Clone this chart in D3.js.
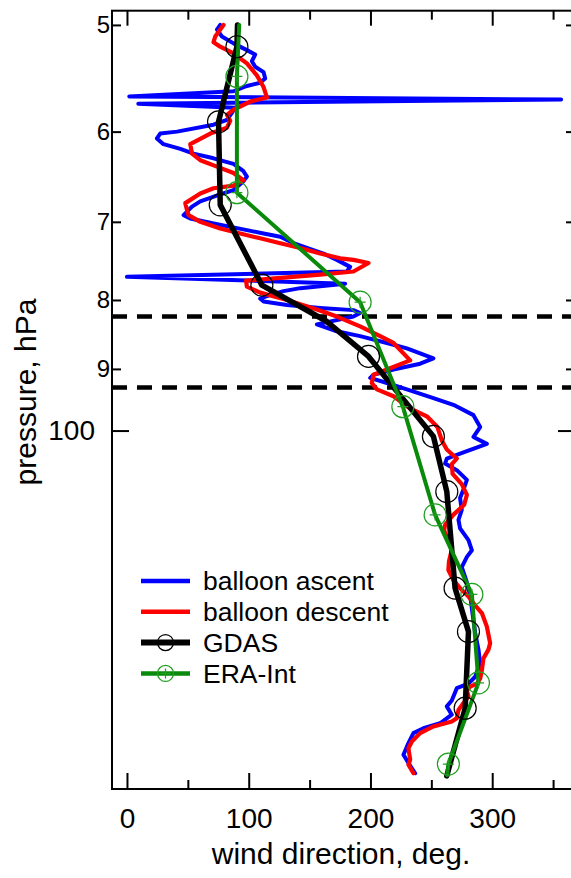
<!DOCTYPE html>
<html lang="en">
<head>
<meta charset="UTF-8">
<title>Wind direction profile</title>
<script src="https://cdn.jsdelivr.net/npm/d3@7.8.5/dist/d3.min.js"></script>
<style>
  body { margin: 0; background: #fff; }
  svg { display: block; font-family: "Liberation Sans", Arial, sans-serif; }
  .axis line { stroke: #000; stroke-width: 2px; }
  .axis path { display: none; }
  .axis text { fill: #000; }
</style>
</head>
<body>
<svg id="chart" width="571" height="878"></svg>
<script>
// [wind direction (deg), pressure (hPa)]
const ascent = [
  [76.6,50.0],[73.9,50.4],[78.0,51.0],[87.5,51.6],[98.5,52.2],[105.3,52.6],[102.6,53.2],[105.3,53.7],
  [112.2,54.2],[113.5,54.8],[109.4,55.2],[98.5,55.5],[87.5,56.0],[1.9,56.5],[356.6,56.8],[9.3,57.2],
  [88.9,57.6],[85.6,58.2],[82.1,58.8],[71.1,59.3],[41.1,60.0],[27.3,60.2],[24.6,60.7],[30.0,61.3],
  [43.8,61.8],[54.7,62.3],[71.1,62.8],[87.5,63.4],[95.7,64.2],[98.5,64.8],[95.7,65.3],[87.5,66.3],
  [76.6,66.8],[60.2,67.6],[53.4,68.2],[46.5,69.2],[52.0,69.6],[71.1,70.2],[98.5,71.0],[112.2,71.4],
  [125.9,71.8],[136.8,72.6],[147.8,73.2],[161.4,73.9],[172.4,74.7],[183.3,75.6],[180.6,76.2],[0.0,76.9],
  [179.2,77.8],[142.3,78.4],[128.6,78.8],[117.7,79.3],[109.4,79.8],[112.2,80.2],[131.4,80.7],[158.7,81.1],
  [186.0,81.4],[191.5,81.8],[186.0,82.3],[156.0,83.4],[172.4,84.4],[191.5,85.1],[213.5,86.1],[229.9,86.9],
  [251.7,88.4],[240.8,89.2],[218.9,90.1],[202.5,90.9],[199.8,91.4],[213.5,92.2],[229.9,93.2],[251.7,94.6],
  [268.1,95.7],[284.6,97.4],[290.1,99.4],[284.6,101.1],[295.6,102.3],[276.4,103.8],[262.7,104.9],[261.3,105.8],
  [270.9,107.0],[279.2,108.8],[276.4,110.6],[273.6,112.2],[275.0,114.5],[272.3,116.5],[273.6,118.2],[280.5,120.6],
  [283.3,122.7],[279.2,124.1],[275.0,126.3],[278.6,129.1],[281.9,132.5],[283.3,135.6],[286.0,141.3],[288.7,145.4],
  [290.1,148.8],[286.0,152.3],[280.5,154.1],[270.9,155.3],[266.8,158.6],[262.7,160.2],[266.8,162.5],[257.2,164.9],
  [243.5,166.3],[235.3,167.7],[231.2,170.6],[227.1,174.0],[231.2,176.5],[236.7,179.6]
];

const descent = [
  [79.3,50.0],[76.6,50.4],[72.5,51.0],[71.1,51.5],[76.6,51.9],[87.5,52.5],[98.5,53.4],[106.7,54.5],
  [112.2,55.6],[114.9,56.6],[101.2,57.0],[87.5,57.8],[82.1,58.3],[84.8,58.9],[82.1,59.6],[68.4,60.2],
  [52.0,61.3],[53.4,62.3],[60.2,63.0],[73.9,63.7],[87.5,64.4],[95.7,65.2],[87.5,65.8],[71.1,66.1],
  [60.2,66.7],[47.9,67.8],[49.3,68.6],[50.6,69.2],[60.2,70.0],[76.6,70.8],[93.0,71.4],[109.4,72.0],
  [125.9,72.6],[142.3,73.2],[158.7,73.9],[175.1,74.5],[186.0,74.7],[198.4,75.1],[186.0,76.2],[158.7,76.6],
  [128.6,77.0],[97.8,77.4],[98.5,78.2],[109.4,79.0],[131.4,80.0],[156.0,81.3],[172.4,82.3],[191.5,83.7],
  [208.0,85.1],[218.9,86.1],[232.6,88.7],[213.5,90.1],[202.5,90.9],[201.1,92.2],[205.3,93.2],[218.9,94.3],
  [232.6,96.3],[246.3,97.6],[255.0,99.4],[258.6,101.7],[262.7,103.3],[270.9,104.9],[266.8,105.9],[267.5,107.7],
  [275.0,109.6],[279.2,111.6],[277.0,113.5],[268.0,115.5],[261.3,117.5],[260.5,118.6],[264.0,120.8],[266.8,122.6],
  [264.5,125.0],[264.0,126.9],[268.1,129.1],[273.6,130.9],[280.5,132.8],[286.5,135.0],[291.5,136.6],[295.6,139.8],
  [298.3,143.8],[296.9,145.4],[292.8,147.6],[291.5,150.6],[290.1,152.8],[287.4,154.1],[281.9,154.9],[279.2,155.9],
  [280.5,157.5],[276.4,159.3],[272.3,161.2],[270.9,163.5],[266.8,164.4],[251.7,165.8],[240.8,167.7],[234.0,170.1],
  [231.2,172.1],[232.6,175.5],[231.2,177.0],[235.3,179.6]
];

// third value: 1 = level drawn with a marker
const gdas = [
  [90.8,50.0,0],[90.3,51.9,1],[75.2,59.0,1],[76.6,68.0,1],[110.8,78.0,1],[164.2,83.0,0],[198.4,88.1,1],
  [251.7,101.0,1],[262.7,111.0,1],[269.5,130.9,1],[280.5,141.0,1],[277.8,160.7,1],[262.7,180.4,0]
];

const eraInt = [
  [92.2,50.0,0],[90.3,54.6,1],[90.3,66.6,1],[191.5,80.3,1],[226.6,96.0,1],[253.1,115.5,1],
  [283.3,132.3,1],[288.7,153.9,1],[264.0,176.8,1],[263.0,180.2,0]
];

const dashedLevels = [82.3, 92.9];

const xMajorTicks = [0, 100, 200, 300];
const xMinorTicks = [50, 150, 250, 350];
const yMinorTicks = [50, 60, 70, 80, 90];
const yMinorLabels = ["5", "6", "7", "8", "9"];
const yMajorTicks = [100];
const yMajorLabels = ["100"];

const legendItems = ["balloon ascent", "balloon descent", "GDAS", "ERA-Int"];

const svg = d3.select("#chart");
const plotLeft = 112, plotRight = 575, plotTop = 10.7, plotBottom = 789;

const x = d3.scaleLinear().domain([-12.3, 368]).range([plotLeft, plotRight]);
const y = d3.scaleLog().domain([48.8, 184.5]).range([plotTop, plotBottom]);

// axes with inward ticks
function addAxis(axis, tx, ty, fontSize) {
  const g = svg.append("g").attr("class", "axis")
    .attr("transform", `translate(${tx},${ty})`)
    .call(axis);
  g.selectAll("text").style("font-size", fontSize + "px");
  return g;
}

addAxis(d3.axisBottom(x).tickValues(xMajorTicks).tickSize(-16).tickPadding(19).tickFormat(d3.format("d")), 0, plotBottom, 28);
addAxis(d3.axisBottom(x).tickValues(xMinorTicks).tickSize(-9).tickFormat(""), 0, plotBottom, 0);
addAxis(d3.axisTop(x).tickValues(xMajorTicks).tickSize(-15).tickFormat(""), 0, plotTop, 0);
addAxis(d3.axisTop(x).tickValues(xMinorTicks).tickSize(-9).tickFormat(""), 0, plotTop, 0);

addAxis(d3.axisLeft(y).tickValues(yMinorTicks).tickSize(-9).tickPadding(2)
  .tickFormat((d, i) => yMinorLabels[i]), plotLeft, 0, 24);
addAxis(d3.axisLeft(y).tickValues(yMajorTicks).tickSize(-17).tickPadding(17)
  .tickFormat((d, i) => yMajorLabels[i]), plotLeft, 0, 28);
addAxis(d3.axisRight(y).tickValues(yMinorTicks).tickSize(-9).tickFormat(""), plotRight, 0, 0);
addAxis(d3.axisRight(y).tickValues(yMajorTicks).tickSize(-17).tickFormat(""), plotRight, 0, 0);

// frame
svg.append("rect")
  .attr("x", plotLeft).attr("y", plotTop)
  .attr("width", plotRight - plotLeft).attr("height", plotBottom - plotTop)
  .attr("fill", "none").attr("stroke", "#000").attr("stroke-width", 2);

// dashed pressure levels
svg.append("g").selectAll("line")
  .data(dashedLevels)
  .join("line")
  .attr("x1", plotLeft).attr("x2", plotRight)
  .attr("y1", d => y(d)).attr("y2", d => y(d))
  .attr("stroke", "#000").attr("stroke-width", 4.5)
  .attr("stroke-dasharray", "15,10");

const line = d3.line().x(d => x(d[0])).y(d => y(d[1]));

const series = [
  { data: ascent, color: "#0000ff", width: 4 },
  { data: descent, color: "#ff0000", width: 4.2 },
  { data: gdas, color: "#000000", width: 5.5 },
  { data: eraInt, color: "#0a8a0a", width: 4 }
];

series.forEach(s => {
  svg.append("path")
    .datum(s.data)
    .attr("d", line)
    .attr("fill", "none")
    .attr("stroke", s.color)
    .attr("stroke-width", s.width)
    .attr("stroke-linejoin", "round")
    .attr("stroke-linecap", "round");
});

// GDAS markers
svg.append("g").selectAll("circle")
  .data(gdas.filter(d => d[2]))
  .join("circle")
  .attr("cx", d => x(d[0])).attr("cy", d => y(d[1]))
  .attr("r", 11).attr("fill", "none")
  .attr("stroke", "#000").attr("stroke-width", 1.2);

// ERA-Int markers: circle with plus
const eraMarkerColor = "#1f9f1f";
function plusMarker(g, r, arm) {
  g.append("circle").attr("r", r).attr("fill", "none")
    .attr("stroke", eraMarkerColor).attr("stroke-width", 1.2);
  g.append("path").attr("d", `M${-arm},0H${arm}M0,${-arm}V${arm}`)
    .attr("stroke", eraMarkerColor).attr("stroke-width", 1.2);
}
svg.append("g").selectAll("g")
  .data(eraInt.filter(d => d[2]))
  .join("g")
  .attr("transform", d => `translate(${x(d[0])},${y(d[1])})`)
  .each(function() { plusMarker(d3.select(this), 11, 5.5); });

// legend
const legend = svg.append("g").attr("transform", "translate(141,581)");
legendItems.forEach((name, i) => {
  const s = series[i];
  const g = legend.append("g").attr("transform", `translate(0,${i * 30.8})`);
  g.append("line").attr("x1", 0).attr("x2", 49)
    .attr("stroke", s.color).attr("stroke-width", i === 2 ? 6 : 4.5);
  if (i === 2) {
    g.append("circle").attr("cx", 24.5).attr("r", 8)
      .attr("fill", "none").attr("stroke", "#000").attr("stroke-width", 1.2);
  }
  if (i === 3) {
    plusMarker(g.append("g").attr("transform", "translate(24.5,0)"), 8, 5);
  }
  g.append("text").attr("x", 62).attr("dy", "0.35em")
    .style("font-size", "26.5px").text(name);
});

// axis titles
svg.append("text")
  .attr("x", 341).attr("y", 864)
  .attr("text-anchor", "middle")
  .style("font-size", "30px")
  .text("wind direction, deg.");

svg.append("text")
  .attr("transform", "translate(36,392) rotate(-90)")
  .attr("text-anchor", "middle")
  .style("font-size", "30px")
  .text("pressure, hPa");
</script>
</body>
</html>
